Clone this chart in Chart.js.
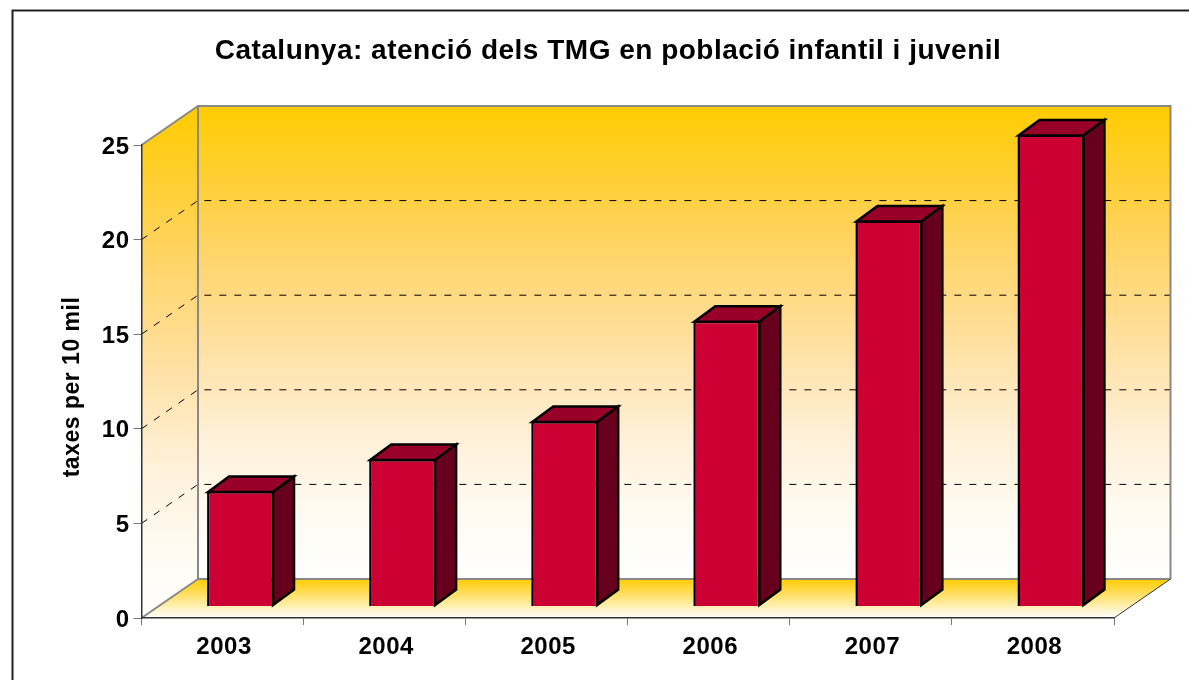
<!DOCTYPE html>
<html>
<head>
<meta charset="utf-8">
<title>Catalunya TMG</title>
<script src="https://cdn.jsdelivr.net/npm/chart.js@4"></script>
<style>
    html, body { margin: 0; background: #fff; }
    canvas { display: block; }
</style>
</head>
<body>
<canvas id="chartTaxes" width="1189" height="680"></canvas>
<script>
const anys = ["2003", "2004", "2005", "2006", "2007", "2008"];
const taxes = [6.1, 7.8, 9.8, 15.1, 20.4, 24.95];
const liniesGuia = [5, 10, 15, 20];
const titol = "Catalunya: atenció dels TMG en població infantil i juvenil";
const titolEix = "taxes per 10 mil";

const FONT = "'Liberation Sans', Arial, sans-serif";
// 3d look: depth of the box, and how far the bars sit inside it
const fons = { dx: 56.5, dy: -39 };
const barra = { dx: 18, dy: -11.5, fx: 21, fy: -15.5 };

function poligon(ctx, punts, fill, stroke, gruix) {
    ctx.beginPath();
    punts.forEach((p, i) => i ? ctx.lineTo(p[0], p[1]) : ctx.moveTo(p[0], p[1]));
    ctx.closePath();
    if (fill) { ctx.fillStyle = fill; ctx.fill(); }
    if (stroke) { ctx.strokeStyle = stroke; ctx.lineWidth = gruix; ctx.lineJoin = "miter"; ctx.stroke(); }
}

// walls fade through a peach tone, not straight to white
function degradat(ctx, y0, y1) {
    const g = ctx.createLinearGradient(0, y0, 0, y1);
    g.addColorStop(0, "#FFCC00");
    g.addColorStop(0.15, "#FFCF33");
    g.addColorStop(0.3, "#FFD466");
    g.addColorStop(0.5, "#FFE0A0");
    g.addColorStop(0.7, "#FFF0D8");
    g.addColorStop(0.85, "#FFFAF0");
    g.addColorStop(1, "#FFFFFF");
    return g;
}

function degradatTerra(ctx, y0, y1) {
    const g = ctx.createLinearGradient(0, y0, 0, y1);
    g.addColorStop(0, "#FFCC00");
    g.addColorStop(1, "#FFFFFF");
    return g;
}

const caixa3d = {
    id: "caixa3d",
    afterLayout(chart) {
        // title is centred on the whole box, not on the front plane
        chart.titleBlock.left += 51;
        chart.titleBlock.right += 51;
        // axis title sits a little below the middle of the axis
        const s = chart.scales.y;
        const drawTitle = s.drawTitle.bind(s);
        s.drawTitle = () => {
            s.ctx.save();
            s.ctx.translate(0, 5.5);
            drawTitle();
            s.ctx.restore();
        };
    },
    beforeDraw(chart) {
        const ctx = chart.ctx;
        const { left, right, top, bottom } = chart.chartArea;
        const bl = left + fons.dx, br = right + fons.dx;
        const bt = top + fons.dy, bb = bottom + fons.dy;

        ctx.letterSpacing = "0.5px";
        ctx.save();
        // page frame, only left and top are visible
        ctx.strokeStyle = "#222";
        ctx.lineWidth = 2;
        ctx.beginPath();
        ctx.moveTo(12.5, 680);
        ctx.lineTo(12.5, 10.5);
        ctx.lineTo(1189, 10.5);
        ctx.stroke();

        // walls
        poligon(ctx, [[bl, bt], [br, bt], [br, bb], [bl, bb]], degradat(ctx, bt, bb));
        poligon(ctx, [[left, top], [bl, bt], [bl, bb], [left, bottom]], degradat(ctx, bt, bottom));
        poligon(ctx, [[left, bottom], [bl, bb], [br, bb], [right, bottom]], degradatTerra(ctx, bb, bottom));

        // dashed guides
        ctx.strokeStyle = "#000";
        ctx.lineWidth = 1;
        ctx.setLineDash([7, 8]);
        liniesGuia.forEach(v => {
            const y = chart.scales.y.getPixelForValue(v);
            ctx.beginPath();
            ctx.moveTo(left, y);
            ctx.lineTo(bl, y + fons.dy);
            ctx.lineTo(br, y + fons.dy);
            ctx.stroke();
        });
        ctx.setLineDash([]);

        // box edges
        ctx.strokeStyle = "#888";
        ctx.lineWidth = 2;
        ctx.beginPath();
        ctx.moveTo(left, top);
        ctx.lineTo(bl, bt);
        ctx.lineTo(br, bt);
        ctx.lineTo(br, bb);
        ctx.moveTo(bl, bt);
        ctx.lineTo(bl, bb);
        ctx.lineTo(br, bb);
        ctx.moveTo(left, bottom);
        ctx.lineTo(bl, bb);
        ctx.stroke();
        ctx.strokeStyle = "#333";
        ctx.lineWidth = 1;
        ctx.beginPath();
        ctx.moveTo(right, bottom);
        ctx.lineTo(br, bb);
        ctx.stroke();
        ctx.restore();
    },
    beforeDatasetDraw(chart) {
        chart.ctx.save();
        chart.ctx.translate(barra.dx, barra.dy);
    },
    afterDatasetDraw(chart, args) {
        const ctx = chart.ctx;
        args.meta.data.forEach(b => {
            const { x, y, base, width } = b.getProps(["x", "y", "base", "width"], true);
            const l = x - width / 2 + 1, r = x + width / 2 - 1;
            const fx = barra.fx, fy = barra.fy;
            poligon(ctx, [[l, y + 1], [l + fx, y + 1 + fy], [r + fx, y + 1 + fy], [r, y + 1]], "#990029", "#000", 2.5);
            poligon(ctx, [[r, y + 1], [r + fx, y + 1 + fy], [r + fx, base - 1 + fy], [r, base - 1]], "#66001C", "#000", 2.5);
        });
        ctx.restore();
    }
};

new Chart(document.getElementById("chartTaxes"), {
    type: "bar",
    data: {
        labels: anys,
        datasets: [{
            data: taxes,
            backgroundColor: "#CC0033",
            borderColor: "#000",
            borderWidth: 2.5,
            barPercentage: 0.413,
            categoryPercentage: 1
        }]
    },
    options: {
        responsive: false,
        animation: false,
        layout: { padding: { right: 75, left: 0, top: 0, bottom: 0 } },
        plugins: {
            legend: { display: false },
            tooltip: { enabled: false },
            title: {
                display: true,
                text: titol,
                color: "#000",
                font: { family: FONT, size: 28, weight: "bold", lineHeight: 1.2 },
                padding: { top: 34, bottom: 77.4 }
            }
        },
        scales: {
            x: {
                afterFit(s) { s.height = 62; },
                border: { color: "#333", width: 1.5 },
                grid: { drawOnChartArea: false, color: "#777", tickLength: 7 },
                ticks: {
                    color: "#000",
                    padding: 8,
                    labelOffset: 1.5,
                    maxRotation: 0,
                    font: { family: FONT, size: 24, weight: "bold" }
                }
            },
            y: {
                min: 0,
                max: 25,
                afterFit(s) { s.width = 141.5; },
                border: { color: "#333", width: 1.5 },
                grid: { drawOnChartArea: false, color: "#777", tickLength: 8 },
                ticks: {
                    stepSize: 5,
                    color: "#000",
                    padding: 4,
                    labelOffset: 2,
                    font: { family: FONT, size: 24, weight: "bold" }
                },
                title: {
                    display: true,
                    text: titolEix,
                    color: "#000",
                    font: { family: FONT, size: 23, weight: "bold", lineHeight: 1 },
                    padding: { top: 61, bottom: 0 }
                }
            }
        }
    },
    plugins: [caixa3d]
});
</script>
</body>
</html>
